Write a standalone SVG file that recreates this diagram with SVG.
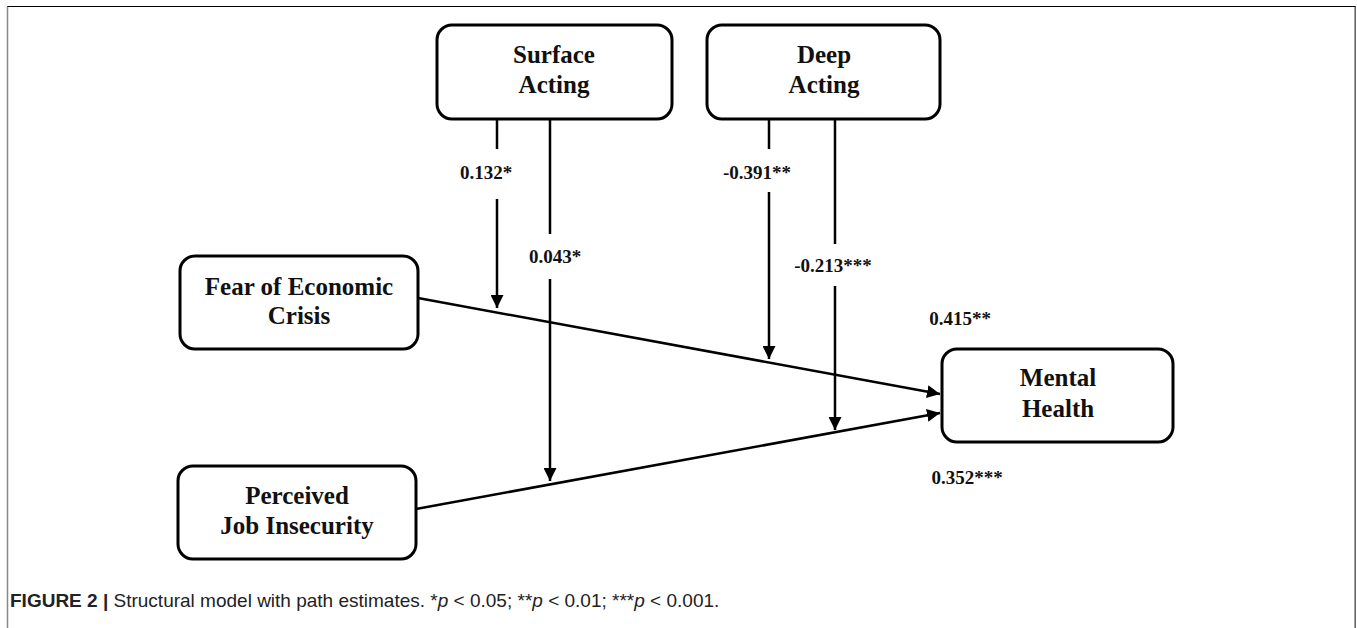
<svg xmlns="http://www.w3.org/2000/svg" width="1357" height="628" viewBox="0 0 1357 628">
<defs>
<marker id="ah" viewBox="0 0 13 13" refX="13" refY="6.5" markerWidth="13" markerHeight="13" markerUnits="userSpaceOnUse" orient="auto">
<path d="M0,0 L13,6.5 L0,13 Z" fill="#000"/>
</marker>
<style>
.box{fill:#fff;stroke:#000;stroke-width:3}
.nt{font-family:"Liberation Serif","Times New Roman",serif;font-weight:bold;font-size:25px;fill:#111;text-anchor:middle}
.lb{font-family:"Liberation Serif","Times New Roman",serif;font-weight:bold;font-size:19px;fill:#111;text-anchor:middle}
.ln{stroke:#000;stroke-width:2.5;fill:none}
.cap{font-family:"Liberation Sans",Arial,sans-serif;font-size:19px;fill:#222}
</style>
</defs>
<rect width="1357" height="628" fill="#fff"/>
<path d="M7.5,640 V6.5 H1355.5 V640" fill="none" stroke="#000" stroke-width="1"/>
<line x1="7.5" y1="7" x2="7.5" y2="628" stroke="#888" stroke-width="1.5"/>
<line x1="1355" y1="7" x2="1355" y2="628" stroke="#888" stroke-width="1.5"/>

<g id="connectors">
<line class="ln" x1="418" y1="298" x2="940" y2="394" marker-end="url(#ah)"/>
<line class="ln" x1="416" y1="509" x2="940" y2="413" marker-end="url(#ah)"/>
<line class="ln" x1="497" y1="119" x2="497" y2="149"/>
<line class="ln" x1="497" y1="199" x2="497" y2="308" marker-end="url(#ah)"/>
<line class="ln" x1="550" y1="119" x2="550" y2="234"/>
<line class="ln" x1="550" y1="279" x2="550" y2="481" marker-end="url(#ah)"/>
<line class="ln" x1="769" y1="119" x2="769" y2="149"/>
<line class="ln" x1="769" y1="192" x2="769" y2="359" marker-end="url(#ah)"/>
<line class="ln" x1="835" y1="119" x2="835" y2="244"/>
<line class="ln" x1="835" y1="286" x2="835" y2="430" marker-end="url(#ah)"/>
<text class="lb" x="486" y="179">0.132*</text>
<text class="lb" x="555" y="263">0.043*</text>
<text class="lb" x="757" y="179">-0.391**</text>
<text class="lb" x="833" y="272">-0.213***</text>
<text class="lb" x="960" y="325">0.415**</text>
<text class="lb" x="967" y="484">0.352***</text>
</g>

<g id="surface-acting">
<rect class="box" x="437" y="25" width="235" height="94" rx="15"/>
<text class="nt" x="554" y="63">Surface</text>
<text class="nt" x="554" y="93">Acting</text>
</g>
<g id="deep-acting">
<rect class="box" x="707" y="25" width="233" height="94" rx="15"/>
<text class="nt" x="824" y="63">Deep</text>
<text class="nt" x="824" y="93">Acting</text>
</g>
<g id="fear-of-economic-crisis">
<rect class="box" x="180" y="256" width="238" height="93" rx="15"/>
<text class="nt" x="299" y="295">Fear of Economic</text>
<text class="nt" x="299" y="324">Crisis</text>
</g>
<g id="perceived-job-insecurity">
<rect class="box" x="178" y="466" width="238" height="93" rx="15"/>
<text class="nt" x="297" y="504">Perceived</text>
<text class="nt" x="297" y="534">Job Insecurity</text>
</g>
<g id="mental-health">
<rect class="box" x="942" y="349" width="231" height="93" rx="15"/>
<text class="nt" x="1058" y="386">Mental</text>
<text class="nt" x="1058" y="417">Health</text>
</g>

<text class="cap" x="10" y="607"><tspan font-weight="bold">FIGURE 2 |</tspan> Structural model with path estimates. *<tspan font-style="italic">p</tspan> &lt; 0.05; **<tspan font-style="italic">p</tspan> &lt; 0.01; ***<tspan font-style="italic">p</tspan> &lt; 0.001.</text>
</svg>
